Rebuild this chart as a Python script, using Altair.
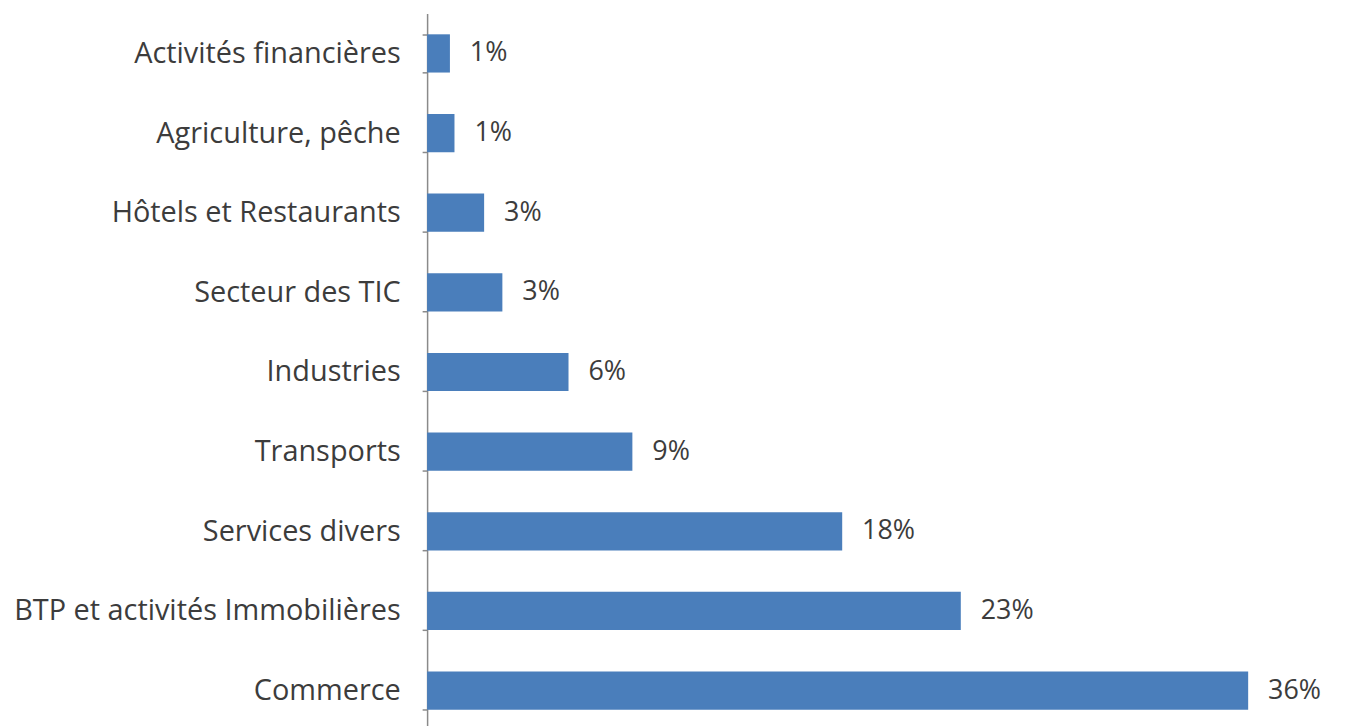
import altair as alt
import pandas as pd

categories = [
    "Activités financières",
    "Agriculture, pêche",
    "Hôtels et Restaurants",
    "Secteur des TIC",
    "Industries",
    "Transports",
    "Services divers",
    "BTP et activités Immobilières",
    "Commerce",
]
values = [1.0, 1.2, 2.5, 3.3, 6.2, 9.0, 18.2, 23.4, 36.0]
labels = ["1%", "1%", "3%", "3%", "6%", "9%", "18%", "23%", "36%"]

df = pd.DataFrame({"cat": categories, "val": values, "lab": labels})

y = alt.Y(
    "cat:N",
    sort=categories,
    title=None,
    scale=alt.Scale(paddingInner=0.52, paddingOuter=0.26),
    axis=alt.Axis(
        domainColor="#8a8a8a",
        domainWidth=1.5,
        tickColor="#8a8a8a",
        tickSize=5,
        tickWidth=1.5,
        tickBand="extent",
        labelPadding=22,
        labelFont="Open Sans",
        labelFontSize=29,
        labelColor="#3c3c3c",
        labelLimit=600,
    ),
)
x = alt.X("val:Q", axis=None, scale=alt.Scale(domain=[0, 37.8]))

bars = alt.Chart(df).mark_bar(color="#4a7ebb").encode(x=x, y=y)
text = alt.Chart(df).mark_text(
    align="left", baseline="middle", dx=20, font="Open Sans", fontSize=27, color="#3c3c3c"
).encode(x=x, y=y, text="lab:N")

chart = (
    (bars + text)
    .properties(
        width=866,
        height=720,
        background="white",
        autosize=alt.AutoSizeParams(type="none"),
        padding={"left": 421, "top": 4, "right": 50, "bottom": 0},
    )
    .configure_view(stroke="transparent", strokeWidth=0)
)

chart.save("out.html", embed_options={"renderer": "svg", "actions": False})
